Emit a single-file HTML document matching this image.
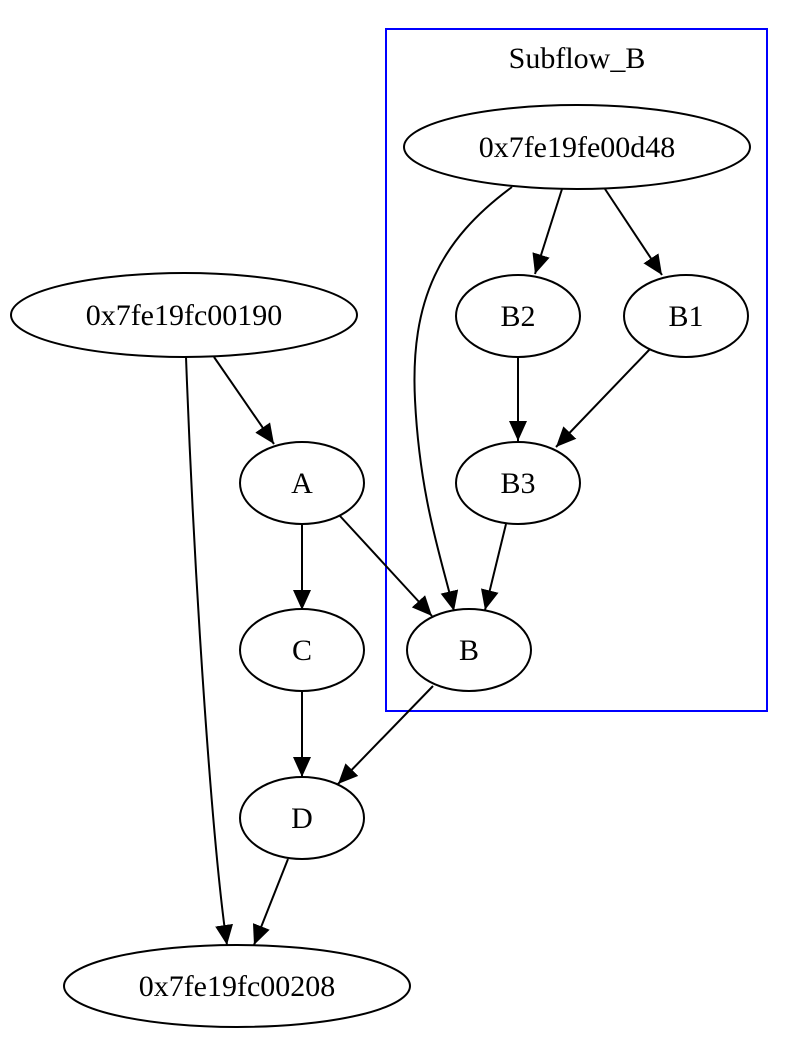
<!DOCTYPE html>
<html><head><meta charset="utf-8"><style>html,body{margin:0;padding:0;background:#fff;}svg{display:block}</style></head>
<body>
<svg width="794" height="1037" viewBox="0 0 794 1037" xmlns="http://www.w3.org/2000/svg">
<defs>
<marker id="ah" markerUnits="userSpaceOnUse" markerWidth="22" markerHeight="20" refX="20" refY="9" orient="auto">
<path d="M0,0 L20,9 L0,18 Z" fill="#000"/>
</marker>
</defs>
<rect x="386" y="29" width="381" height="682" fill="none" stroke="#0000ff" stroke-width="2"/>
<g font-family="'Liberation Serif', serif" font-size="32" text-anchor="middle" fill="#000">
<text x="577" y="68" font-size="30">Subflow_B</text>
</g>
<g fill="none" stroke="#000" stroke-width="2">
<ellipse cx="577" cy="147" rx="173" ry="42"/>
<ellipse cx="518" cy="316" rx="62" ry="41"/>
<ellipse cx="686" cy="316" rx="62" ry="41"/>
<ellipse cx="518" cy="483" rx="62" ry="41"/>
<ellipse cx="469" cy="650" rx="62" ry="41"/>
<ellipse cx="184" cy="315" rx="173" ry="42"/>
<ellipse cx="302" cy="483" rx="62" ry="41"/>
<ellipse cx="302" cy="650" rx="62" ry="41"/>
<ellipse cx="302" cy="818" rx="62" ry="41"/>
<ellipse cx="237" cy="986" rx="173" ry="41"/>
<path d="M562,189 L535,274" marker-end="url(#ah)"/>
<path d="M605,189 L662,275" marker-end="url(#ah)"/>
<path d="M512,187 C440,240 410,300 415,400 C420,500 442,560 454,611" marker-end="url(#ah)"/>
<path d="M518,357 L518,441" marker-end="url(#ah)"/>
<path d="M650,349 L556,447" marker-end="url(#ah)"/>
<path d="M506,524 L485,610" marker-end="url(#ah)"/>
<path d="M214,357 L274,444" marker-end="url(#ah)"/>
<path d="M186,357 C195,600 213,850 227,945" marker-end="url(#ah)"/>
<path d="M302,524 L302,610" marker-end="url(#ah)"/>
<path d="M340,516 L432,616" marker-end="url(#ah)"/>
<path d="M302,691 L302,777" marker-end="url(#ah)"/>
<path d="M433,686 L338,784" marker-end="url(#ah)"/>
<path d="M288,859 L254,945" marker-end="url(#ah)"/>
</g>
<g font-family="'Liberation Serif', serif" font-size="30" text-anchor="middle" fill="#000">
<text x="577" y="157">0x7fe19fe00d48</text>
<text x="518" y="326">B2</text>
<text x="686" y="326">B1</text>
<text x="518" y="493">B3</text>
<text x="469" y="660">B</text>
<text x="184" y="325">0x7fe19fc00190</text>
<text x="302" y="493">A</text>
<text x="302" y="660">C</text>
<text x="302" y="828">D</text>
<text x="237" y="996">0x7fe19fc00208</text>
</g>
</svg>
</body></html>
